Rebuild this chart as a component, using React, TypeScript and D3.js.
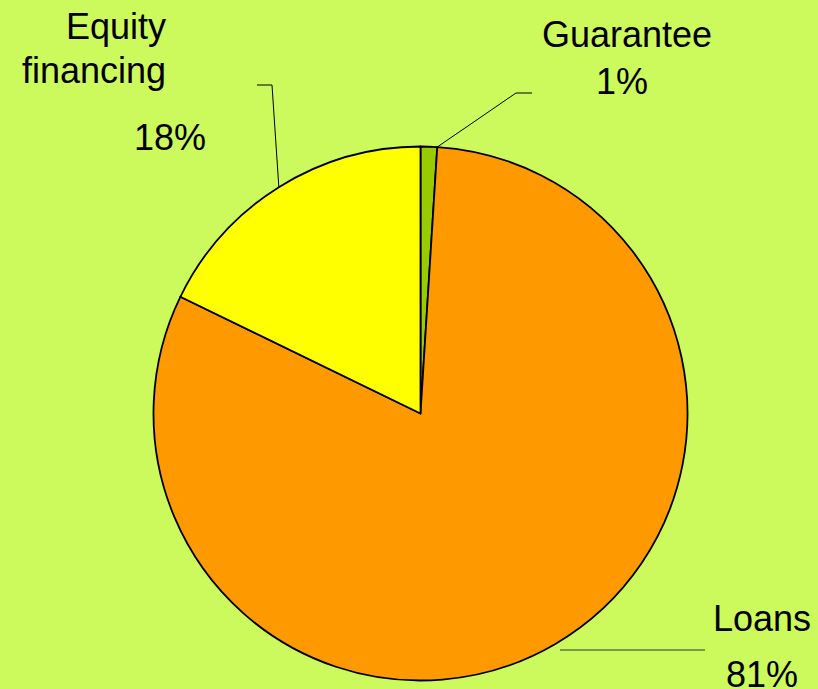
import React from "react";
import * as d3 from "d3";

const categories = ["Guarantee", "Loans", "Equity financing"];
const values = [1.0, 81.2, 17.8];
const percentLabels = ["1%", "81%", "18%"];
const colors = ["#99CC00", "#FF9900", "#FFFF00"];

const W = 818;
const H = 689;
const cx = 420.5;
const cy = 413.5;
const R = 267;

export default function App() {
  const pie = d3.pie<number>().sort(null).value((d) => d)(values);
  const arc = d3.arc<d3.PieArcDatum<number>>().innerRadius(0).outerRadius(R);
  const pt = (angle: number, r: number) => [cx + r * Math.sin(angle), cy - r * Math.cos(angle)];

  const gA = pie[0].endAngle;
  const gP = pt(gA, R);
  const eA = (pie[2].startAngle + pie[2].endAngle) / 2;
  const eP = pt(eA, R);

  const font = { fontFamily: "'Liberation Sans', Arial, sans-serif", fontSize: 36, fill: "#000" };

  return (
    <svg width={W} height={H} style={{ position: "absolute", left: 0, top: 0, display: "block" }}>
      <rect x={0} y={0} width={W} height={H} fill="#CCF95C" />
      <g transform={`translate(${cx},${cy})`}>
        {pie.map((p, i) => (
          <path key={categories[i]} d={arc(p) || ""} fill={colors[i]} stroke="#000" strokeWidth={1.8} strokeLinejoin="round" />
        ))}
      </g>
      {/* leader lines */}
      <polyline points={`${gP[0]},${gP[1]} 516,93 532,93`} fill="none" stroke="#000" strokeWidth={1} />
      <polyline points={`${eP[0]},${eP[1]} 272,85 257,85`} fill="none" stroke="#000" strokeWidth={1} />
      <line x1={560} y1={650} x2={705} y2={650} stroke="#333" strokeWidth={1} />
      {/* labels */}
      <text {...font} x={166} y={39} textAnchor="end">Equity</text>
      <text {...font} x={166} y={83} textAnchor="end">financing</text>
      <text {...font} x={170} y={150} textAnchor="middle">{percentLabels[2]}</text>
      <text {...font} x={627} y={47} textAnchor="middle">{categories[0]}</text>
      <text {...font} x={622} y={94} textAnchor="middle">{percentLabels[0]}</text>
      <text {...font} x={762} y={631} textAnchor="middle">{categories[1]}</text>
      <text {...font} x={762} y={687} textAnchor="middle">{percentLabels[1]}</text>
    </svg>
  );
}
